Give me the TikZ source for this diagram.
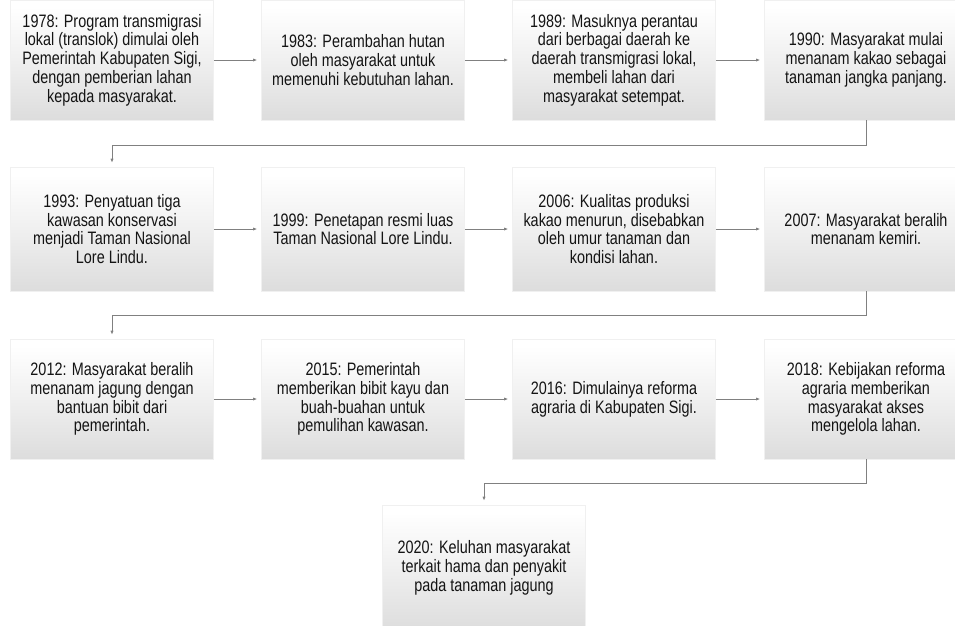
\documentclass[tikz,border=0pt]{standalone}
\usepackage{fontspec}
\setmainfont{Liberation Sans}[FakeStretch=0.8]
\usetikzlibrary{arrows.meta}
\pgfdeclareverticalshading{boxshade}{100bp}{color(0bp)=(black!19); color(20bp)=(black!15); color(50bp)=(black!6); color(72bp)=(white); color(100bp)=(white)}
\tikzset{
  evbox/.style={rectangle, shading=boxshade, draw=black!6, line width=0.6pt,
    minimum width=203pt, inner sep=0pt, align=center, text=black!92,
    font=\fontsize{18}{18.8}\selectfont},
  conn/.style={draw=black!50, line width=0.9pt, -{Latex[length=4pt,width=3.2pt]}, shorten >=4pt}
}
\begin{document}
\begin{tikzpicture}[x=1pt,y=-1pt]
\useasboundingbox (0,0) rectangle (955,625);
\clip (0,0) rectangle (955,625);
% row 1
\node[evbox, minimum height=120pt] (b1) at (112,60) {1978: Program transmigrasi\\lokal (translok) dimulai oleh\\Pemerintah Kabupaten Sigi,\\dengan pemberian lahan\\kepada masyarakat.};
\node[evbox, minimum height=120pt] (b2) at (363,60) {1983: Perambahan hutan\\oleh masyarakat untuk\\memenuhi kebutuhan lahan.};
\node[evbox, minimum height=120pt] (b3) at (614,60) {1989: Masuknya perantau\\dari berbagai daerah ke\\daerah transmigrasi lokal,\\membeli lahan dari\\masyarakat setempat.};
\node[evbox, minimum height=120pt] (b4) at (866,60) {1990: Masyarakat mulai\\menanam kakao sebagai\\tanaman jangka panjang.};
% row 2
\node[evbox, minimum height=124pt] (b5) at (112,229) {1993: Penyatuan tiga\\kawasan konservasi\\menjadi Taman Nasional\\Lore Lindu.};
\node[evbox, minimum height=124pt] (b6) at (363,229) {1999: Penetapan resmi luas\\Taman Nasional Lore Lindu.};
\node[evbox, minimum height=124pt] (b7) at (614,229) {2006: Kualitas produksi\\kakao menurun, disebabkan\\oleh umur tanaman dan\\kondisi lahan.};
\node[evbox, minimum height=124pt] (b8) at (866,229) {2007: Masyarakat beralih\\menanam kemiri.};
% row 3
\node[evbox, minimum height=120pt] (b9) at (112,399) {2012: Masyarakat beralih\\menanam jagung dengan\\bantuan bibit dari\\pemerintah.};
\node[evbox, minimum height=120pt] (b10) at (363,399) {2015: Pemerintah\\memberikan bibit kayu dan\\buah-buahan untuk\\pemulihan kawasan.};
\node[evbox, minimum height=120pt] (b11) at (614,399) {2016: Dimulainya reforma\\agraria di Kabupaten Sigi.};
\node[evbox, minimum height=120pt] (b12) at (866,399) {2018: Kebijakan reforma\\agraria memberikan\\masyarakat akses\\mengelola lahan.};
% row 4
\node[evbox, minimum height=126pt] (b13) at (484,568) {2020: Keluhan masyarakat\\terkait hama dan penyakit\\pada tanaman jagung};
% connectors
\draw[conn] (b1) -- (b2);
\draw[conn] (b2) -- (b3);
\draw[conn] (b3) -- (b4);
\draw[conn] (b5) -- (b6);
\draw[conn] (b6) -- (b7);
\draw[conn] (b7) -- (b8);
\draw[conn] (b9) -- (b10);
\draw[conn] (b10) -- (b11);
\draw[conn] (b11) -- (b12);
\draw[conn] (b4.south) -- ++(0,25) -| (b5.north);
\draw[conn] (b8.south) -- ++(0,24) -| (b9.north);
\draw[conn] (b12.south) -- ++(0,24) -| (b13.north);
\end{tikzpicture}
\end{document}
